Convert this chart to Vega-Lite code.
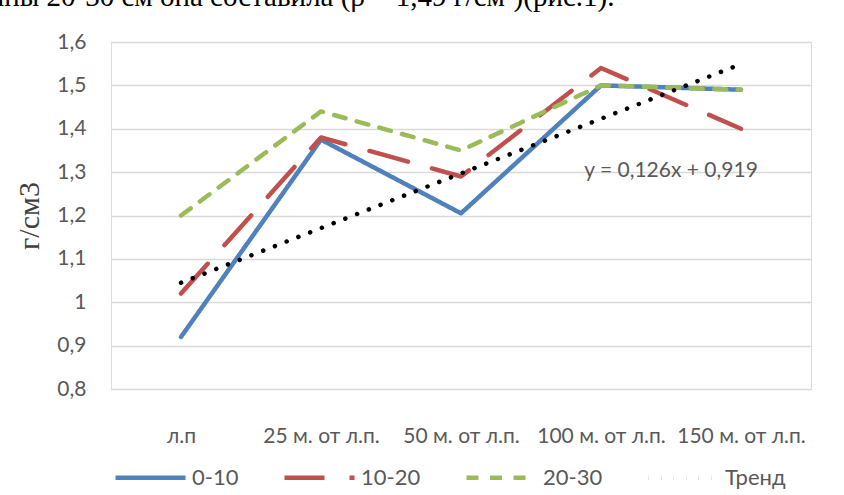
{
  "$schema": "https://vega.github.io/schema/vega-lite/v6.json",
  "width": 700,
  "height": 347,
  "autosize": {"type": "none"},
  "padding": {"left": 111, "top": 42, "right": 33, "bottom": 106},
  "background": "white",
  "title": {
    "text": "глубины 20-30 см она составила (ρ = 1,49 г/см³)(рис.1).",
    "font": "Liberation Serif",
    "fontSize": 29,
    "fontWeight": "normal",
    "color": "#000000",
    "anchor": "start",
    "frame": "group",
    "dx": -176,
    "dy": -19,
    "offset": 0
  },
  "datasets": {
    "density": [
      {"site": "л.п", "series": "0-10", "value": 0.92},
      {"site": "25 м. от л.п.", "series": "0-10", "value": 1.375},
      {"site": "50 м. от л.п.", "series": "0-10", "value": 1.205},
      {"site": "100 м. от л.п.", "series": "0-10", "value": 1.5},
      {"site": "150 м. от л.п.", "series": "0-10", "value": 1.49},
      {"site": "л.п", "series": "10-20", "value": 1.02},
      {"site": "25 м. от л.п.", "series": "10-20", "value": 1.38},
      {"site": "50 м. от л.п.", "series": "10-20", "value": 1.29},
      {"site": "100 м. от л.п.", "series": "10-20", "value": 1.54},
      {"site": "150 м. от л.п.", "series": "10-20", "value": 1.4},
      {"site": "л.п", "series": "20-30", "value": 1.2},
      {"site": "25 м. от л.п.", "series": "20-30", "value": 1.44},
      {"site": "50 м. от л.п.", "series": "20-30", "value": 1.35},
      {"site": "100 м. от л.п.", "series": "20-30", "value": 1.5},
      {"site": "150 м. от л.п.", "series": "20-30", "value": 1.49},
      {"site": "л.п", "series": "Тренд", "value": 1.045},
      {"site": "25 м. от л.п.", "series": "Тренд", "value": 1.171},
      {"site": "50 м. от л.п.", "series": "Тренд", "value": 1.297},
      {"site": "100 м. от л.п.", "series": "Тренд", "value": 1.423},
      {"site": "150 м. от л.п.", "series": "Тренд", "value": 1.549}
    ],
    "equation": [
      {"site": "100 м. от л.п.", "value": 1.3, "label": "y = 0,126x + 0,919"}
    ]
  },
  "layer": [
    {
      "data": {"name": "density"},
      "mark": {"type": "line", "strokeCap": "round", "strokeJoin": "round"},
      "encoding": {
        "x": {
          "field": "site",
          "type": "nominal",
          "sort": ["л.п", "25 м. от л.п.", "50 м. от л.п.", "100 м. от л.п.", "150 м. от л.п."],
          "scale": {"type": "point", "padding": 0.5},
          "axis": {
            "title": null,
            "domain": false,
            "ticks": false,
            "grid": false,
            "labelAngle": 0,
            "labelPadding": 36,
            "labelFont": "Lato",
            "labelFontSize": 21,
            "labelColor": "#595959"
          }
        },
        "y": {
          "field": "value",
          "type": "quantitative",
          "scale": {"domain": [0.8, 1.6], "zero": false, "nice": false},
          "axis": {
            "title": "г/см3",
            "titleFont": "Liberation Serif",
            "titleFontSize": 30,
            "titleFontWeight": "normal",
            "titleColor": "#404040",
            "titlePadding": 12,
            "values": [0.8, 0.9, 1.0, 1.1, 1.2, 1.3, 1.4, 1.5, 1.6],
            "labelExpr": "replace(format(datum.value, '~g'), '.', ',')",
            "domain": false,
            "ticks": false,
            "labelPadding": 25,
            "labelFont": "Lato",
            "labelFontSize": 21,
            "labelColor": "#595959",
            "gridColor": "#D9D9D9",
            "gridWidth": 1.3
          }
        },
        "color": {
          "field": "series",
          "type": "nominal",
          "scale": {
            "domain": ["0-10", "10-20", "20-30", "Тренд"],
            "range": ["#4F81BD", "#C0504D", "#9BBB59", "#000000"]
          },
          "legend": {
            "title": null,
            "orient": "none",
            "direction": "horizontal",
            "legendX": 2,
            "legendY": 398,
            "symbolType": "stroke",
            "symbolSize": 4900,
            "symbolStrokeWidth": 4.5,
            "labelFont": "Lato",
            "labelFontSize": 22,
            "labelColor": "#595959",
            "labelOffset": 4,
            "columnPadding": 36
          }
        },
        "strokeDash": {
          "field": "series",
          "type": "nominal",
          "scale": {
            "domain": ["0-10", "10-20", "20-30", "Тренд"],
            "range": [[1, 0], [40, 25], [12, 11.5], [0.1, 12.5]]
          },
          "legend": null
        },
        "strokeWidth": {
          "field": "series",
          "type": "nominal",
          "scale": {
            "domain": ["0-10", "10-20", "20-30", "Тренд"],
            "range": [4.5, 4.5, 4.5, 5.5]
          },
          "legend": null
        }
      }
    },
    {
      "data": {"name": "equation"},
      "mark": {"type": "text", "font": "Lato", "fontSize": 21, "color": "#595959", "dx": 70, "dy": -1, "align": "center", "baseline": "middle"},
      "encoding": {
        "x": {"field": "site", "type": "nominal", "sort": ["л.п", "25 м. от л.п.", "50 м. от л.п.", "100 м. от л.п.", "150 м. от л.п."]},
        "y": {"field": "value", "type": "quantitative"},
        "text": {"field": "label"}
      }
    }
  ]
}
